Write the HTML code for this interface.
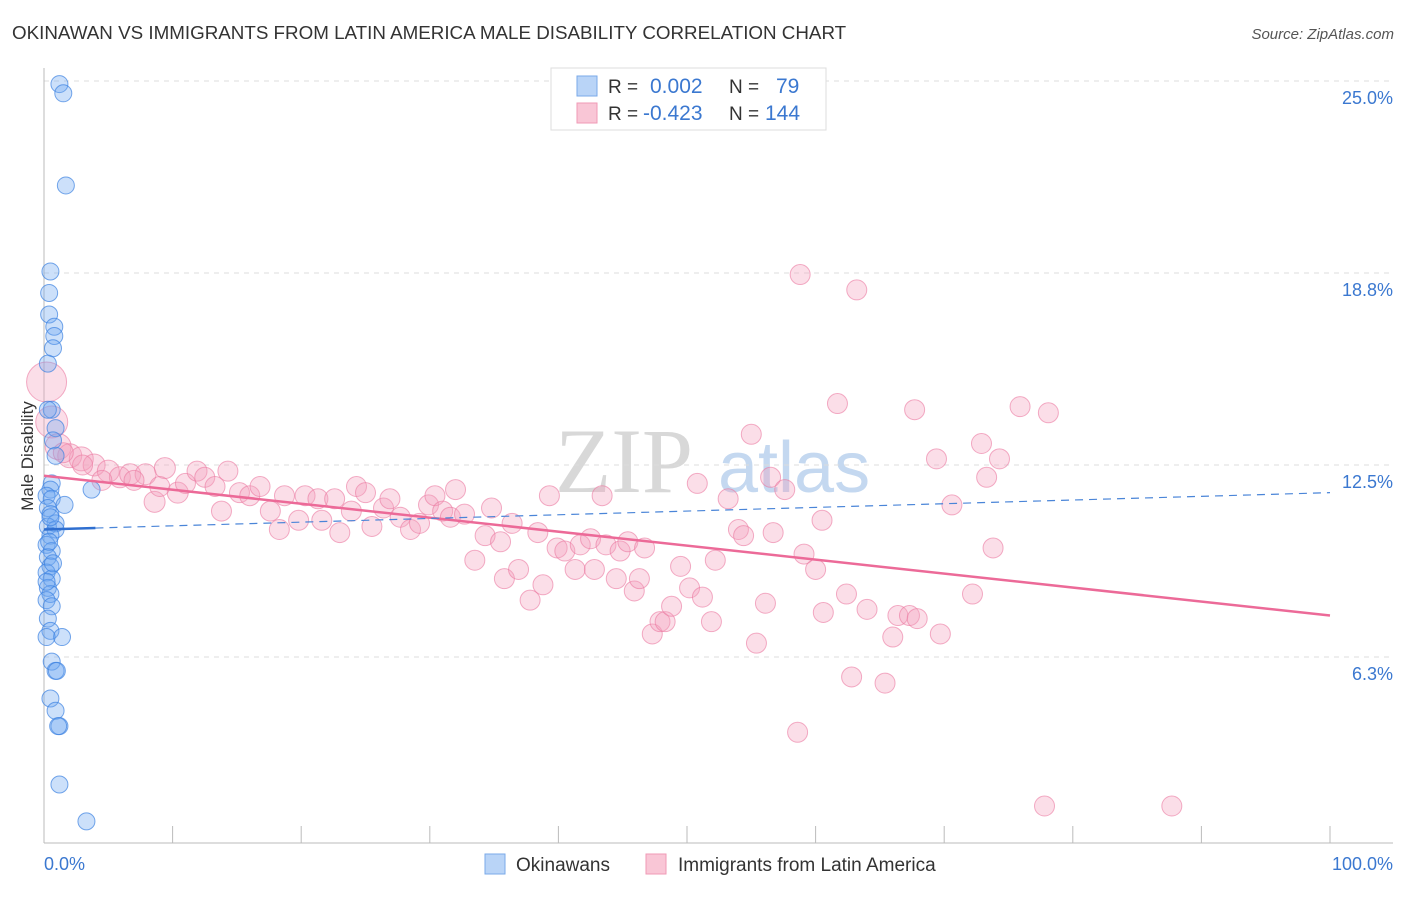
<!DOCTYPE html>
<html><head><meta charset="utf-8"><style>
body{margin:0;background:#fff;font-family:"Liberation Sans",sans-serif}
svg text{font-family:"Liberation Sans",sans-serif}
</style></head><body>
<svg id="chart" width="1406" height="892" xmlns="http://www.w3.org/2000/svg">
<text x="12" y="39" font-size="18.8" fill="#333">OKINAWAN VS IMMIGRANTS FROM LATIN AMERICA MALE DISABILITY CORRELATION CHART</text>
<text x="1394" y="39" font-size="15" fill="#555" text-anchor="end" font-style="italic">Source: ZipAtlas.com</text>
<g>
<text x="555" y="492" font-size="92" fill="#d8d8d8" font-family="Liberation Serif" style="font-family:'Liberation Serif',serif">ZIP</text>
<text x="718" y="492" font-size="72" fill="#c4d8f0">atlas</text>
</g>
<g id="grid"></g>
<g id="axes"></g>
<g id="points"></g>
<g id="trends"></g>
<text transform="translate(33,456) rotate(-90)" font-size="17" fill="#333" text-anchor="middle">Male Disability</text>
<g>
<rect x="551" y="68" width="275" height="62" fill="#fff" stroke="#ddd"/>
<rect x="577" y="76" width="20" height="20" fill="#b9d4f7" stroke="#7aaae8"/>
<rect x="577" y="103" width="20" height="20" fill="#f9c6d6" stroke="#f09ab6"/>
<text x="608" y="93" font-size="19" fill="#333">R =</text><text x="650" y="93" font-size="21" fill="#3b78d0">0.002</text>
<text x="729" y="93" font-size="19" fill="#333">N =</text><text x="776" y="93" font-size="21" fill="#3b78d0">79</text>
<text x="608" y="120" font-size="19" fill="#333">R =</text><text x="643" y="120" font-size="21" fill="#3b78d0">-0.423</text>
<text x="729" y="120" font-size="19" fill="#333">N =</text><text x="765" y="120" font-size="21" fill="#3b78d0">144</text>
</g>
<g>
<rect x="485" y="854" width="20" height="20" fill="#b9d4f7" stroke="#7aaae8"/>
<text x="516" y="871" font-size="19" fill="#333">Okinawans</text>
<rect x="646" y="854" width="20" height="20" fill="#f9c6d6" stroke="#f09ab6"/>
<text x="678" y="871" font-size="19" fill="#333">Immigrants from Latin America</text>
</g>
<text x="44" y="870" font-size="18" fill="#3b78d0">0.0%</text>
<text x="1393" y="870" font-size="18" fill="#3b78d0" text-anchor="end">100.0%</text>
</svg>
<script>
const yTicks=[25,18.75,12.5,6.25];
const yTickLabels=["25.0%","18.8%","12.5%","6.3%"];
const xTicks=[0,10,20,30,40,50,60,70,80,90,100];
const blueX=[1.2,1.5,1.7,0.5,0.4,0.4,0.8,0.8,0.7,0.3,0.6,0.3,0.9,0.7,0.9,3.7,0.6,0.5,0.2,0.6,1.6,0.3,0.5,0.9,0.3,0.9,0.5,0.2,0.6,0.3,0.5,0.2,0.6,0.3,0.5,0.2,0.6,0.3,0.5,1.4,0.2,0.6,0.9,1.0,0.5,0.9,1.2,1.1,1.2,3.3,0.4,0.7,0.2,0.5];
const blueY=[24.9,24.6,21.6,18.8,18.1,17.4,17.0,16.7,16.3,15.8,14.3,14.3,13.7,13.3,12.8,11.7,11.9,11.7,11.5,11.4,11.2,11.1,10.9,10.6,10.5,10.4,10.2,9.9,9.7,9.5,9.2,9.0,8.8,8.5,8.3,8.1,7.9,7.5,7.1,6.9,6.9,6.1,5.8,5.8,4.9,4.5,4.0,4.0,2.1,0.9,10.0,9.3,8.7,10.8];
const pinkX=[0.2,0.6,1.1,2.0,2.9,3.9,5.0,5.9,6.7,7.9,8.6,9.4,10.4,11.0,11.9,12.5,13.3,13.8,14.3,15.2,16.0,16.8,17.6,18.3,18.7,19.8,20.3,21.3,21.6,22.6,23.0,23.9,24.3,25.0,25.5,26.4,26.9,27.7,28.5,29.2,29.9,30.4,31.0,31.6,32.0,32.7,33.5,34.3,34.8,35.5,35.8,36.4,36.9,37.8,38.4,38.8,39.3,39.9,40.5,41.3,41.7,42.5,42.8,43.4,43.7,44.5,44.8,45.4,45.9,46.3,46.7,47.3,47.9,48.3,48.8,49.5,50.2,50.8,51.2,51.9,52.2,53.2,54.0,54.4,55.0,55.4,56.1,56.5,56.7,57.6,58.6,58.8,59.1,60.0,60.5,60.6,61.7,62.4,62.8,63.2,64.0,65.4,66.0,66.4,67.3,67.7,67.9,69.4,69.7,70.6,72.2,72.9,73.3,73.8,74.3,75.9,77.8,78.1,87.7,1.5,3.0,4.5,7.0,9.0];
const pinkY=[15.2,13.9,13.1,12.8,12.7,12.5,12.3,12.1,12.2,12.2,11.3,12.4,11.6,11.9,12.3,12.1,11.8,11.0,12.3,11.6,11.5,11.8,11.0,10.4,11.5,10.7,11.5,11.4,10.7,11.4,10.3,11.0,11.8,11.6,10.5,11.1,11.4,10.8,10.4,10.6,11.2,11.5,11.0,10.8,11.7,10.9,9.4,10.2,11.1,10.0,8.8,10.6,9.1,8.1,10.3,8.6,11.5,9.8,9.7,9.1,9.9,10.1,9.1,11.5,9.9,8.8,9.7,10.0,8.4,8.8,9.8,7.0,7.4,7.4,7.9,9.2,8.5,11.9,8.2,7.4,9.4,11.4,10.4,10.2,13.5,6.7,8.0,12.1,10.3,11.7,3.8,18.7,9.6,9.1,10.7,7.7,14.5,8.3,5.6,18.2,7.8,5.4,6.9,7.6,7.6,14.3,7.5,12.7,7.0,11.2,8.3,13.2,12.1,9.8,12.7,14.4,1.4,14.2,1.4,12.9,12.5,12.0,12.0,11.8];
const pinkBigR=[20,16,13,12,12,11,11,10.5,10.5,10.5,10.5,10.5,10.5];
const blueTrend=[10.4,11.6];
const pinkTrend=[12.15,7.6];
const NS="http://www.w3.org/2000/svg";
const X0=44,X1=1330,Y0=849,PPY=30.72;
function sx(v){return X0+(X1-X0)*v/100;}
function sy(v){return Y0-v*PPY;}
function mk(tag,attrs,parent){const e=document.createElementNS(NS,tag);for(const k in attrs)e.setAttribute(k,attrs[k]);document.getElementById(parent).appendChild(e);return e;}
yTicks.forEach((t,i)=>{
 const l=mk('line',{x1:44,x2:1393,y1:sy(t),y2:sy(t),stroke:'#ddd','stroke-dasharray':'5,5'},'grid');
 
 
 const tx=mk('text',{x:1393,y:sy(t)+23,'font-size':18,fill:'#3b78d0','text-anchor':'end'},'grid');
 tx.textContent=yTickLabels[i];
 
 
});
const ax=mk('line',{x1:44,x2:1393,y1:843,y2:843,stroke:'#bbb'},'axes');


const ay=mk('line',{x1:44,x2:44,y1:68,y2:843,stroke:'#bbb'},'axes');


xTicks.forEach(t=>{
 const k=mk('line',{x1:sx(t),x2:sx(t),y1:826,y2:843,stroke:'#bbb'},'axes');
 
 
});
pinkX.forEach((v,i)=>{
 const r=i<pinkBigR.length?pinkBigR[i]:10;
 const c=mk('circle',{cx:sx(v),cy:sy(pinkY[i]),r:r,fill:'rgba(244,160,190,0.35)',stroke:'rgba(235,120,160,0.6)','stroke-width':1},'points');
 
 
});
blueX.forEach((v,i)=>{
 const c=mk('circle',{cx:sx(v),cy:sy(blueY[i]),r:8.5,fill:'rgba(110,165,240,0.35)',stroke:'rgba(60,130,225,0.7)','stroke-width':1},'points');
 
 
});
function lerp(a,b,t){return a+(b-a)*t;}
const pt=mk('line',{x1:sx(0),y1:sy(pinkTrend[0]),x2:sx(100),y2:sy(pinkTrend[1]),stroke:'#ec6a98','stroke-width':2.5},'trends');


const bs=mk('line',{x1:sx(0),y1:sy(blueTrend[0]),x2:sx(4),y2:sy(lerp(blueTrend[0],blueTrend[1],0.04)),stroke:'#2f6fd0','stroke-width':2.5},'trends');


const bd=mk('line',{x1:sx(4),y1:sy(lerp(blueTrend[0],blueTrend[1],0.04)),x2:sx(100),y2:sy(blueTrend[1]),stroke:'#4a85d8','stroke-width':1.2,'stroke-dasharray':'8,6'},'trends');


</script>
</body></html>
